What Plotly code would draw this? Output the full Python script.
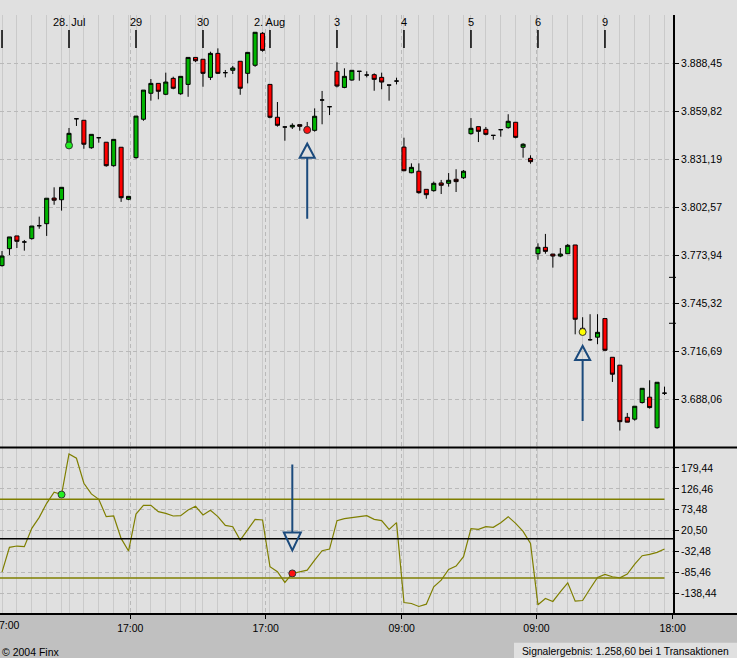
import plotly.graph_objects as go

# --- Data ---
opens = [3767.8, 3777.9, 3785.5, 3781.9, 3783.9, 3791.6, 3792.8, 3808.1, 3807.1, 3839.7,
         3855.4, 3854.5, 3838.1, 3844.1, 3841.4, 3827.4, 3838.4, 3807.4, 3832.2, 3855.1,
         3870.6, 3876.5, 3870.0, 3879.5, 3870.3, 3875.9, 3892.0, 3890.9, 3880.1, 3894.4,
         3882.9, 3884.3, 3889.7, 3882.5, 3887.3, 3906.4, 3875.9, 3856.3, 3850.5, 3850.5,
         3851.9, 3850.5, 3848.5, 3866.6, 3862.6, 3883.7, 3874.1, 3878.5, 3883.7, 3881.5,
         3881.7, 3880.1, 3875.5, 3877.9, 3838.5, 3823.2, 3824.1, 3813.3, 3812.5, 3817.1,
         3816.9, 3819.3, 3820.2, 3846.5, 3850.7, 3849.1, 3845.5, 3848.9, 3850.1, 3853.3,
         3838.4, 3831.8, 3774.9, 3778.7, 3774.7, 3773.5, 3774.9, 3780.1, 3730.4, 3723.6,
         3725.1, 3736.2, 3713.1, 3708.4, 3677.3, 3676.2, 3686.1, 3689.3, 3671.1, 3691.7]
highs = [3776.5, 3784.9, 3785.5, 3783.1, 3791.4, 3797.0, 3808.0, 3814.5, 3814.5, 3849.9,
         3855.4, 3854.5, 3846.1, 3844.1, 3841.4, 3843.1, 3838.4, 3809.1, 3857.0, 3872.5,
         3879.1, 3876.5, 3882.9, 3880.5, 3880.7, 3892.0, 3892.0, 3890.9, 3895.4, 3897.4,
         3884.5, 3886.9, 3889.7, 3895.0, 3907.0, 3907.1, 3875.9, 3865.4, 3850.7, 3852.7,
         3851.9, 3853.5, 3861.6, 3872.0, 3862.6, 3889.1, 3885.5, 3884.3, 3883.7, 3883.7,
         3882.5, 3882.9, 3875.5, 3879.9, 3844.1, 3828.8, 3828.8, 3813.3, 3817.9, 3818.9,
         3823.0, 3825.3, 3824.8, 3855.8, 3850.7, 3850.5, 3845.5, 3848.9, 3858.1, 3853.3,
         3840.8, 3833.6, 3781.1, 3786.7, 3774.7, 3778.3, 3780.7, 3780.1, 3737.0, 3738.8,
         3738.8, 3736.2, 3713.1, 3708.4, 3679.9, 3683.9, 3694.6, 3699.4, 3698.2, 3695.6]
lows = [3767.2, 3774.1, 3778.3, 3776.7, 3783.3, 3789.8, 3785.5, 3804.1, 3800.6, 3839.4,
        3851.1, 3837.5, 3837.5, 3841.1, 3826.8, 3826.8, 3805.8, 3806.8, 3831.6, 3854.2,
        3866.2, 3867.0, 3869.5, 3873.0, 3869.7, 3868.5, 3889.2, 3874.5, 3878.5, 3882.1,
        3880.1, 3882.1, 3869.7, 3876.5, 3886.4, 3895.4, 3855.7, 3850.7, 3842.3, 3849.3,
        3848.3, 3847.7, 3847.7, 3852.1, 3857.6, 3874.1, 3873.6, 3878.1, 3878.1, 3880.1,
        3872.1, 3873.0, 3866.2, 3875.9, 3824.1, 3822.9, 3810.7, 3807.7, 3811.9, 3810.5,
        3814.9, 3811.7, 3819.5, 3845.9, 3841.5, 3845.5, 3842.9, 3844.7, 3849.5, 3843.7,
        3832.2, 3828.6, 3771.3, 3774.9, 3766.6, 3772.8, 3774.9, 3726.8, 3727.0, 3722.9,
        3720.9, 3716.9, 3698.4, 3669.4, 3674.4, 3675.3, 3685.5, 3682.5, 3670.5, 3690.6]
closes = [3773.5, 3784.9, 3782.3, 3781.9, 3791.4, 3791.6, 3808.0, 3806.8, 3814.5, 3846.7,
          3855.4, 3840.2, 3846.1, 3844.1, 3827.4, 3843.1, 3808.3, 3809.1, 3857.0, 3872.5,
          3876.5, 3871.8, 3877.3, 3873.6, 3880.7, 3892.0, 3890.0, 3882.5, 3894.4, 3882.5,
          3882.9, 3885.7, 3873.6, 3895.0, 3907.0, 3896.2, 3856.3, 3851.5, 3850.5, 3851.5,
          3850.9, 3849.3, 3856.9, 3866.6, 3862.6, 3874.9, 3880.7, 3884.3, 3883.7, 3881.5,
          3878.9, 3877.3, 3875.5, 3877.9, 3824.4, 3826.4, 3811.3, 3810.1, 3816.9, 3815.7,
          3818.7, 3817.9, 3824.1, 3849.7, 3847.9, 3846.1, 3845.5, 3848.9, 3853.9, 3844.3,
          3840.2, 3829.8, 3778.7, 3776.3, 3773.5, 3774.7, 3779.9, 3735.8, 3728.6, 3723.6,
          3728.0, 3717.3, 3703.0, 3674.7, 3674.4, 3683.9, 3694.6, 3683.1, 3698.2, 3691.7]

# indicator (CCI-like oscillator), one value per candle
indicator = [-85.0, -22.0, -18.6, -20.3, 26.3, 54.2, 89.8, 117.8, 112.0, 215.3,
             204.2, 140.7, 113.6, 100.0, 55.9, 57.6, 0.8, -31.4, 62.7, 84.8,
             84.8, 68.6, 64.4, 57.6, 58.5, 72.9, 82.2, 60.2, 72.0, 55.9,
             33.9, 30.5, -3.4, 22.0, 49.2, 47.5, -71.2, -83.9, -111.0, -88.1,
             -84.8, -79.7, -54.2, -30.5, -26.3, 45.8, 50.9, 54.2, 55.9, 58.5,
             49.2, 45.8, 23.7, 40.7, -161.9, -164.4, -172.0, -166.1, -122.0, -105.1,
             -78.0, -69.5, -45.8, 25.4, 23.7, 30.5, 28.8, 40.7, 55.9, 39.0,
             18.6, -11.9, -167.8, -151.7, -159.3, -134.8, -111.9, -158.5, -156.8, -127.1,
             -98.3, -90.7, -96.6, -99.2, -89.8, -64.4, -43.2, -39.8, -34.7, -26.3]

x = list(range(len(opens)))

# signals on the price chart
sig_idx = [9, 41, 78]
sig_price = [3839.5, 3848.7, 3728.2]
sig_kind = ["long", "short", "stop"]
arrow_up_idx = [41, 78]

# signals on the indicator
ind_sig_idx = [8, 39]
ind_sig_kind = ["long", "short"]
arrow_down_idx = [39]

day_starts = [0, 9, 18, 27, 36, 45, 54, 63, 72, 81]
day_labels = ["", "28. Jul", "29", "30", "2. Aug", "3", "4", "5", "6", "9"]

time_tick_pos = [17.23, 35.42, 53.69, 71.8, 90.1]
time_tick_text = ["17:00", "17:00", "09:00", "09:00", "18:00"]

price_ticks = [3688.06, 3716.69, 3745.32, 3773.94, 3802.57, 3831.19, 3859.82, 3888.45]
price_marks = [3733.4, 3760.8]
ind_ticks = [-138.44, -85.46, -32.48, 20.50, 73.48, 126.46, 179.44]
ind_levels = [100, -100]


def de_fmt(v):
    s = f"{v:,.2f}"
    return s.replace(",", "#").replace(".", ",").replace("#", ".")


# --- Layout constants ---
W, H = 737, 658
M_L, M_R, M_T, M_B = 0, 64, 15, 44
PLOT_W = W - M_L - M_R
PLOT_H = H - M_T - M_B
SPLIT = 0.278
X_RANGE = [-0.27, 90.14]
PRICE_RANGE = [3659.3, 3917.3]
IND_RANGE = [-191.1, 231.5]

ppx = PLOT_W / (X_RANGE[1] - X_RANGE[0])
ppy_top = PLOT_H * (1 - SPLIT) / (PRICE_RANGE[1] - PRICE_RANGE[0])
ppy_bot = PLOT_H * SPLIT / (IND_RANGE[1] - IND_RANGE[0])

BG = "#e0e0e0"
GRID = "#cacaca"
DASH_GRID = "#b9b9b9"
NAVY = "#1b4a7c"
OLIVE = "#7f7f00"
FONT = "Liberation Sans"
FS = 10.5
SIG_COLORS = {"long": "#22ee22", "short": "#ff1010", "stop": "#ffff00"}

hour_grid = [d + h for d in day_starts for h in (0, 2, 4, 6, 8)]

fig = go.Figure()

fig.add_trace(go.Candlestick(
    x=x, open=opens, high=highs, low=lows, close=closes,
    increasing=dict(fillcolor="#00b400", line=dict(color="black", width=1)),
    decreasing=dict(fillcolor="#ff0000", line=dict(color="black", width=1)),
    whiskerwidth=0, showlegend=False, hoverinfo="skip",
    xaxis="x", yaxis="y"))

fig.add_trace(go.Scatter(
    x=sig_idx, y=sig_price, mode="markers", showlegend=False, hoverinfo="skip",
    marker=dict(size=7, color=[SIG_COLORS[k] for k in sig_kind],
                line=dict(color="#333333", width=1)),
    xaxis="x", yaxis="y"))

fig.add_trace(go.Scatter(
    x=x, y=indicator, mode="lines", showlegend=False, hoverinfo="skip",
    line=dict(color=OLIVE, width=1.2),
    xaxis="x2", yaxis="y2"))

fig.add_trace(go.Scatter(
    x=ind_sig_idx, y=[indicator[i] for i in ind_sig_idx], mode="markers",
    showlegend=False, hoverinfo="skip",
    marker=dict(size=7, color=[SIG_COLORS[k] for k in ind_sig_kind],
                line=dict(color="#333333", width=1)),
    xaxis="x2", yaxis="y2"))

shapes = []

# separator and bottom axis line across the full width
for yy in (SPLIT, 0):
    shapes.append(dict(type="line", xref="paper", yref="paper", x0=0, x1=W / PLOT_W,
                       y0=yy, y1=yy, line=dict(color="black", width=2)))

# footer strip and result box
shapes.append(dict(type="rect", xref="paper", yref="paper", x0=-0.01, x1=W / PLOT_W + 0.01,
                   y0=-M_B / PLOT_H - 0.01, y1=-0.0017, fillcolor="#c0c0c0",
                   line=dict(width=0), layer="below"))
shapes.append(dict(type="rect", xref="paper", yref="paper", x0=514 / PLOT_W, x1=W / PLOT_W + 0.01,
                   y0=-M_B / PLOT_H - 0.01, y1=-28.7 / PLOT_H, fillcolor=BG,
                   line=dict(width=0), layer="below"))

# day ticks on top of the price panel
for d in day_starts:
    shapes.append(dict(type="line", xref="x", yref="paper", x0=d, x1=d,
                       y0=(PLOT_H - 33) / PLOT_H, y1=(PLOT_H - 15) / PLOT_H,
                       line=dict(color="black", width=1.5)))

# extra marks on the price axis
for pm in price_marks:
    shapes.append(dict(type="line", xref="paper", yref="y", x0=1 - 4 / PLOT_W, x1=1 + 3 / PLOT_W,
                       y0=pm, y1=pm, line=dict(color="black", width=1)))

# indicator levels
shapes.append(dict(type="line", xref="paper", yref="y2", x0=0, x1=1, y0=0, y1=0,
                   line=dict(color="black", width=1.5)))
for lv in ind_levels:
    shapes.append(dict(type="line", xref="x2", yref="y2", x0=X_RANGE[0], x1=x[-1],
                       y0=lv, y1=lv, line=dict(color=OLIVE, width=1.5)))

# up arrows under price signals
for i in arrow_up_idx:
    tip = lows[i] - 12 / ppy_top
    base = tip - 14 / ppy_top
    tail = tip - 75 / ppy_top
    hw = 7.5 / ppx
    shapes.append(dict(type="path", xref="x", yref="y",
                       path=f"M {i - hw},{base} L {i + hw},{base} L {i},{tip} Z",
                       line=dict(color=NAVY, width=2), fillcolor="rgba(0,0,0,0)"))
    shapes.append(dict(type="line", xref="x", yref="y", x0=i, x1=i, y0=base, y1=tail,
                       line=dict(color=NAVY, width=2)))

# down arrow above indicator signal
for i in arrow_down_idx:
    tip = indicator[i] + 23 / ppy_bot
    base = tip + 18 / ppy_bot
    tail = tip + 86 / ppy_bot
    hw = 8.5 / ppx
    shapes.append(dict(type="path", xref="x2", yref="y2",
                       path=f"M {i - hw},{base} L {i + hw},{base} L {i},{tip} Z",
                       line=dict(color=NAVY, width=2), fillcolor="rgba(0,0,0,0)"))
    shapes.append(dict(type="line", xref="x2", yref="y2", x0=i, x1=i, y0=base, y1=tail,
                       line=dict(color=NAVY, width=2)))

annotations = []
for d, lab in zip(day_starts, day_labels):
    if lab:
        annotations.append(dict(x=d, y=(PLOT_H - 7.5) / PLOT_H, xref="x", yref="paper",
                                text=lab, showarrow=False, xanchor="center", yanchor="middle",
                                font=dict(family=FONT, size=11, color="black")))
# first time label, only its visible part at the left edge
annotations.append(dict(x=21.7 / PLOT_W, y=-10.5 / PLOT_H, xref="paper", yref="paper",
                        text="7:00", showarrow=False, xanchor="right", yanchor="middle",
                        font=dict(family=FONT, size=FS, color="black")))
annotations.append(dict(x=0, y=-38 / PLOT_H, xref="paper", yref="paper",
                        text="© 2004 Finx", showarrow=False, xanchor="left", yanchor="middle",
                        font=dict(family=FONT, size=FS, color="black")))
annotations.append(dict(x=520 / PLOT_W, y=-37.7 / PLOT_H, xref="paper", yref="paper",
                        text="Signalergebnis: 1.258,60 bei 1 Transaktionen", showarrow=False,
                        xanchor="left", yanchor="middle",
                        font=dict(family=FONT, size=10.3, color="black")))

xaxis_common = dict(
    range=X_RANGE, tickmode="array", tickvals=time_tick_pos, ticktext=time_tick_text,
    showgrid=True, gridcolor=DASH_GRID, griddash="4px,3px", gridwidth=1,
    minor=dict(tickmode="array", tickvals=hour_grid, showgrid=True, gridcolor=GRID,
               griddash="solid", gridwidth=1.3, ticks=""),
    zeroline=False, fixedrange=True, rangeslider=dict(visible=False))

fig.update_layout(
    width=W, height=H,
    margin=dict(l=M_L, r=M_R, t=M_T, b=M_B),
    paper_bgcolor=BG, plot_bgcolor=BG,
    font=dict(family=FONT, size=FS, color="black"),
    boxgap=0.22,
    xaxis=dict(**xaxis_common, anchor="y", showticklabels=False, ticks=""),
    xaxis2=dict(**xaxis_common, anchor="y2", matches="x", showticklabels=True,
                ticks="outside", ticklen=4, tickcolor="black", showline=False,
                tickfont=dict(family=FONT, size=FS)),
    yaxis=dict(domain=[SPLIT, 1], range=PRICE_RANGE, side="right", anchor="x",
               tickmode="array", tickvals=price_ticks,
               ticktext=[de_fmt(v) for v in price_ticks],
               showline=True, linecolor="black", linewidth=2, ticks="outside",
               ticklen=4, tickcolor="black", showgrid=True, gridcolor=DASH_GRID,
               griddash="4px,3px", zeroline=False, automargin=False,
               tickfont=dict(family=FONT, size=FS)),
    yaxis2=dict(domain=[0, SPLIT], range=IND_RANGE, side="right", anchor="x2",
                tickmode="array", tickvals=ind_ticks,
                ticktext=[de_fmt(v) for v in ind_ticks],
                showline=True, linecolor="black", linewidth=2, ticks="outside",
                ticklen=4, tickcolor="black", showgrid=True, gridcolor=DASH_GRID,
                griddash="4px,3px", zeroline=False, automargin=False,
                tickfont=dict(family=FONT, size=FS)),
    shapes=shapes, annotations=annotations,
)

# the page's default body margin would shift the figure by 8px
fig.write_html("out.html", config={"displayModeBar": False},
               post_script="document.body.style.margin='0';")
